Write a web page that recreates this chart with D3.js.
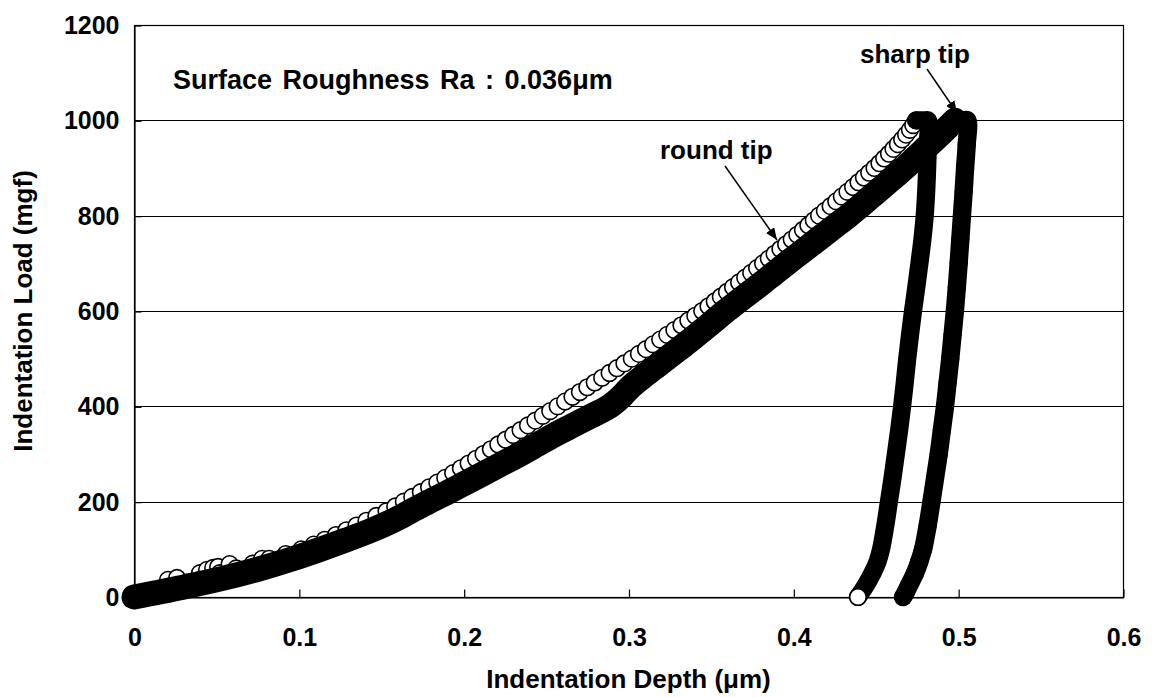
<!DOCTYPE html>
<html>
<head>
<meta charset="utf-8">
<script src="https://cdn.jsdelivr.net/npm/d3@7"></script>
<style>
  body { margin: 0; background: #fff; }
  svg text { font-family: "Liberation Sans", Arial, sans-serif; font-weight: bold; fill: #000; }
</style>
</head>
<body>
<svg id="chart" width="1152" height="697"></svg>
<script>
// Axis ticks and labels
const xTicks = [0, 0.1, 0.2, 0.3, 0.4, 0.5, 0.6];
const xTickLabels = ["0", "0.1", "0.2", "0.3", "0.4", "0.5", "0.6"];
const yTicks = [0, 200, 400, 600, 800, 1000, 1200];
const yTickLabels = ["0", "200", "400", "600", "800", "1000", "1200"];

// Round tip indentation: [depth (um), load (mgf)]
const roundLoading = [
  [0,0],[0.010,10],[0.0206,36],[0.021,20],[0.0261,40],[0.032,30],[0.040,50],[0.042,40],
  [0.0443,57],[0.048,61],[0.051,63],[0.052,50],[0.058,69],[0.062,60],[0.072,70],[0.0777,80],
  [0.082,80],[0.092,90],[0.1015,100],[0.109,110],[0.1157,120],[0.1225,130],[0.1288,140],
  [0.135,150],[0.141,160],[0.147,170],[0.1532,180],[0.1585,190],[0.1637,200],[0.1688,210],
  [0.174,220],[0.179,230],[0.184,240],[0.1888,250],[0.1936,260],[0.1983,270],[0.203,280],
  [0.2075,290],[0.212,300],[0.2165,310],[0.221,320],[0.2255,330],[0.230,340],[0.2345,350],
  [0.239,360],[0.2435,370],[0.248,380],[0.2525,390],[0.257,400],[0.2615,410],[0.266,420],
  [0.2705,430],[0.275,440],[0.2795,450],[0.284,460],[0.2885,470],[0.293,480],[0.2975,490],
  [0.302,500],[0.3063,510],[0.3106,520],[0.3149,530],[0.3192,540],[0.3235,550],[0.3278,560],
  [0.3321,570],[0.3363,580],[0.3405,590],[0.3447,600],[0.3485,610],[0.3523,620],[0.356,630],
  [0.3597,640],[0.3634,650],[0.3671,660],[0.3708,670],[0.3744,680],[0.378,690],[0.3816,700],
  [0.3851,710],[0.3886,720],[0.3921,730],[0.3956,740],[0.399,750],[0.4024,760],[0.4058,770],
  [0.4091,780],[0.4124,790],[0.4156,800],[0.4191,810],[0.4226,820],[0.426,830],[0.4294,840],
  [0.4328,850],[0.4362,860],[0.4395,870],[0.4428,880],[0.446,890],[0.4492,900],[0.4522,910],
  [0.4551,920],[0.458,930],[0.4607,940],[0.4634,950],[0.466,960],[0.4684,970],[0.4707,980],
  [0.4727,990],[0.4745,1000]
];
const roundHold = [[0.4765,1000],[0.4785,1000],[0.4802,1000],[0.4817,1000]];
const roundUnloading = [
  [0.4816,950],[0.4812,900],[0.4806,850],[0.4797,800],[0.4783,750],[0.4765,700],[0.4746,650],
  [0.4726,600],[0.4708,550],[0.4691,500],[0.4676,450],[0.466,400],[0.4642,350],[0.4622,300],
  [0.4602,250],[0.458,200],[0.4558,150],[0.4532,100],[0.4512,75],[0.448,50],[0.444,25],
  [0.4412,10],[0.4392,0]
];

// Sharp tip indentation: [depth (um), load (mgf)]
const sharpLoading = [
  [0,0],[0.029,20],[0.055,40],[0.077,60],[0.096,80],[0.113,100],[0.129,120],[0.144,140],
  [0.157,160],[0.168,180],[0.179,200],[0.1905,220],[0.2015,240],[0.2125,260],[0.2235,280],
  [0.2345,300],[0.2448,320],[0.255,340],[0.2662,360],[0.2775,380],[0.2885,400],[0.2955,420],
  [0.301,440],[0.308,460],[0.3155,480],[0.323,500],[0.3305,520],[0.338,540],[0.345,560],
  [0.352,580],[0.359,600],[0.3665,620],[0.374,640],[0.3815,660],[0.3887,680],[0.396,700],
  [0.4035,720],[0.411,740],[0.4185,760],[0.426,780],[0.4335,800],[0.4405,820],[0.4473,840],
  [0.4541,860],[0.4608,880],[0.4675,900],[0.4737,920],[0.4798,940],[0.4859,960],[0.492,980],
  [0.498,1000]
];
const sharpHold = [[0.5005,1000],[0.503,1000],[0.5055,1000]];
const sharpUnloading = [
  [0.5052,950],[0.5042,900],[0.5033,850],[0.5023,800],[0.5013,750],[0.5003,700],[0.4992,650],
  [0.498,600],[0.4966,550],[0.4952,500],[0.4936,450],[0.492,400],[0.4901,350],[0.4882,300],
  [0.486,250],[0.4838,200],[0.4815,150],[0.4787,100],[0.4765,75],[0.4738,50],[0.4703,25],
  [0.4682,10],[0.4666,0]
];

const svg = d3.select("#chart");
const x = d3.scaleLinear().domain([0, 0.6]).range([134, 1123]);
const y = d3.scaleLinear().domain([0, 1200]).range([597, 25]);
const R = 8.3;

// Horizontal gridlines
svg.append("g")
  .selectAll("line")
  .data(yTicks.slice(1, -1))
  .join("line")
  .attr("x1", x(0)).attr("x2", x(0.6))
  .attr("y1", d => Math.round(y(d)) + 0.5).attr("y2", d => Math.round(y(d)) + 0.5)
  .attr("stroke", "#000").attr("stroke-width", 1.2);

// Plot frame
svg.append("rect")
  .attr("x", x(0) + 0.5).attr("y", y(1200) + 0.5)
  .attr("width", x(0.6) - x(0)).attr("height", y(0) - y(1200))
  .attr("fill", "none").attr("stroke", "#000").attr("stroke-width", 1.2);

// Axes with inward ticks
const xAxis = d3.axisBottom(x).tickValues(xTicks)
  .tickFormat((d, i) => xTickLabels[i])
  .tickSizeInner(-8).tickSizeOuter(0).tickPadding(31);
const yAxis = d3.axisLeft(y).tickValues(yTicks)
  .tickFormat((d, i) => yTickLabels[i])
  .tickSizeInner(-7).tickSizeOuter(0).tickPadding(15);

const gx = svg.append("g").attr("transform", `translate(0.5,${y(0) + 0.5})`).call(xAxis);
const gy = svg.append("g").attr("transform", `translate(${x(0) + 0.5},0.5)`).call(yAxis);
[gx, gy].forEach(g => {
  g.select(".domain").attr("stroke", "#000").attr("stroke-width", 1.2);
  g.selectAll(".tick line").attr("stroke", "#000").attr("stroke-width", 1.2);
  g.selectAll(".tick text").attr("font-size", 25).attr("fill", "#000")
    .style("font-family", '"Liberation Sans", Arial, sans-serif').style("font-weight", "bold");
});

const line = d3.line().x(d => x(d[0])).y(d => y(d[1])).curve(d3.curveCatmullRom.alpha(0.5));

// Round tip: open circle markers; hold and unloading trace drawn as a dense band
const roundG = svg.append("g");
roundG.selectAll("circle")
  .data(roundLoading)
  .join("circle")
  .attr("cx", d => x(d[0])).attr("cy", d => y(d[1])).attr("r", R)
  .attr("fill", "#fff").attr("stroke", "#000").attr("stroke-width", 1.6);
const roundTrail = [roundLoading[roundLoading.length - 1], ...roundHold, ...roundUnloading];
roundG.append("path")
  .attr("d", line(roundTrail))
  .attr("fill", "none").attr("stroke", "#000")
  .attr("stroke-width", 2 * R + 1.6).attr("stroke-linecap", "round").attr("stroke-linejoin", "round");
const roundLast = roundUnloading[roundUnloading.length - 1];
roundG.append("circle")
  .attr("cx", x(roundLast[0])).attr("cy", y(roundLast[1])).attr("r", R)
  .attr("fill", "#fff").attr("stroke", "#000").attr("stroke-width", 1.6);

// Sharp tip: filled circle markers merged into a solid band
const sharpG = svg.append("g");
sharpG.append("path")
  .attr("d", line(sharpLoading))
  .attr("fill", "none").attr("stroke", "#000")
  .attr("stroke-width", 25).attr("stroke-linecap", "round").attr("stroke-linejoin", "round");
sharpG.append("path")
  .attr("d", line([sharpLoading[sharpLoading.length - 1], ...sharpHold, ...sharpUnloading]))
  .attr("fill", "none").attr("stroke", "#000")
  .attr("stroke-width", 2 * R + 1.8).attr("stroke-linecap", "round").attr("stroke-linejoin", "round");
sharpG.selectAll("circle")
  .data([...sharpLoading, ...sharpHold, ...sharpUnloading])
  .join("circle")
  .attr("cx", d => x(d[0])).attr("cy", d => y(d[1])).attr("r", R + 0.8)
  .attr("fill", "#000");

// Arrowhead
svg.append("defs").append("marker")
  .attr("id", "arrow").attr("viewBox", "0 0 12 10")
  .attr("refX", 12).attr("refY", 5)
  .attr("markerWidth", 12).attr("markerHeight", 10)
  .attr("markerUnits", "userSpaceOnUse").attr("orient", "auto")
  .append("path").attr("d", "M0,0 L12,5 L0,10 Z").attr("fill", "#000");

// Annotations
svg.append("text").attr("x", 173).attr("y", 89)
  .attr("font-size", 27).attr("word-spacing", 3)
  .text("Surface Roughness Ra : 0.036μm");

svg.append("text").attr("x", 660).attr("y", 159).attr("font-size", 26).text("round tip");
svg.append("line")
  .attr("x1", 725).attr("y1", 166).attr("x2", 777).attr("y2", 240)
  .attr("stroke", "#000").attr("stroke-width", 1.5).attr("marker-end", "url(#arrow)");

svg.append("text").attr("x", 860).attr("y", 63).attr("font-size", 26).text("sharp tip");
svg.append("line")
  .attr("x1", 927).attr("y1", 69).attr("x2", 957).attr("y2", 113)
  .attr("stroke", "#000").attr("stroke-width", 1.5).attr("marker-end", "url(#arrow)");

// Axis titles
svg.append("text")
  .attr("x", (x(0) + x(0.6)) / 2).attr("y", 688)
  .attr("text-anchor", "middle").attr("font-size", 26)
  .text("Indentation Depth (μm)");
svg.append("text")
  .attr("transform", `translate(32,${(y(0) + y(1200)) / 2}) rotate(-90)`)
  .attr("text-anchor", "middle").attr("font-size", 26)
  .text("Indentation Load (mgf)");
</script>
</body>
</html>
